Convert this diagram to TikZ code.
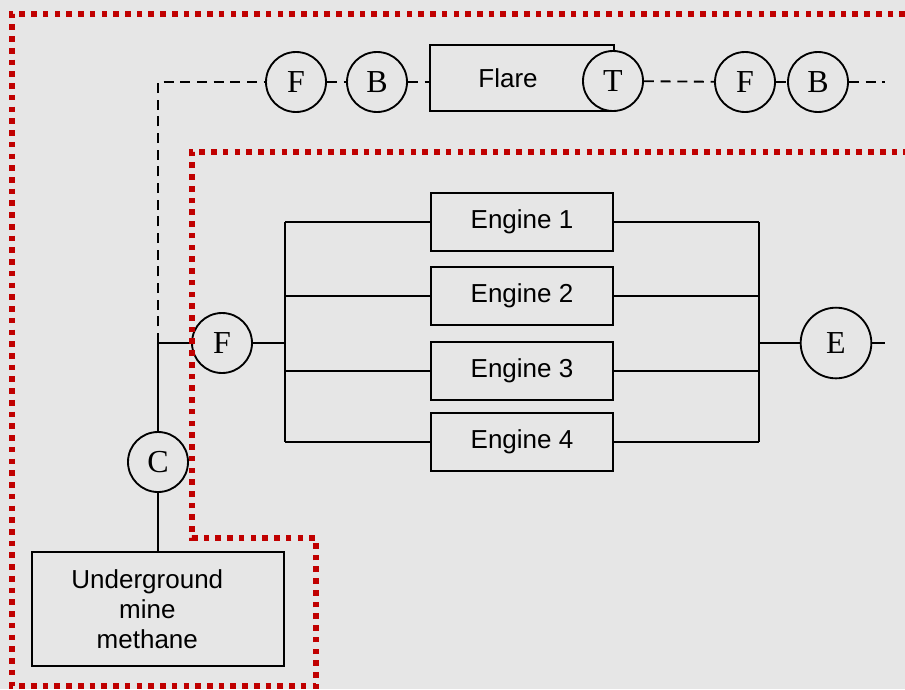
\documentclass[tikz,border=0pt]{standalone}
\usepackage{fontspec}
\setmainfont{Liberation Sans}
\newfontfamily\letterfont{Liberation Serif}
\definecolor{bggray}{HTML}{E6E6E6}
\definecolor{zonered}{HTML}{C00000}
\begin{document}
\begin{tikzpicture}[x=0.75pt, y=-0.75pt, line width=1.4pt]
        \tikzstyle{unit}=[circle, draw, fill=bggray, minimum size=45pt, inner sep=0pt, font=\letterfont\fontsize{24}{24}\selectfont]
        \tikzstyle{bigunit}=[unit, minimum size=53pt]
        \tikzstyle{block}=[rectangle, draw, minimum width=137pt, minimum height=44pt, inner sep=0pt, font=\fontsize{19.5}{22.5}\selectfont]
        \tikzstyle{feed}=[dash pattern=on 7.5pt off 5pt]
        \tikzstyle{zone}=[zonered, line width=4.2pt, dash pattern=on 4.2pt off 4.6pt]

        \fill[bggray] (0,0) rectangle (905,689);
        \useasboundingbox (0,0) rectangle (905,689);

        % flare branch
        \node[block, minimum width=138pt, minimum height=50pt] (flare) at (522,78) {Flare\hspace*{21pt}};
        \node[unit] (t) at (613,81) {T};
        \node[unit] (f1) at (296,82) {F};
        \node[unit] (b1) at (377,82) {B};
        \node[unit] (f2) at (745,82) {F};
        \node[unit] (b2) at (818,82) {B};
        \coordinate (bend) at (158,82);
        \coordinate (topend) at (885,82);

        % supply side
        \coordinate (tee) at (158,343);
        \node[unit] (f0) at (222,343) {F};
        \node[unit] (c) at (158,462) {C};
        \node[block, minimum width=189pt, minimum height=86pt, align=center] (mine) at (158,609) {\raisebox{-3pt}{\parbox{170pt}{\centering Underground\\mine\\methane}}\hspace*{16pt}};

        % engines
        \foreach \n/\y in {1/222,2/296,3/371,4/442}
            \node[block] (eng\n) at (522,\y) {\raisebox{-2pt}{Engine \n}};
        \coordinate (lbus) at (285,343);
        \coordinate (rbus) at (759,343);
        \node[bigunit] (e) at (836,343) {E};
        \coordinate (out) at (885,343);

        \draw[feed] (tee) -- (bend) -- (f1);
        \draw[feed] (f1) -- (b1);
        \draw[feed] (b1) -- (b1 -| flare.west);
        \draw[feed] (t) -- (f2);
        \draw[feed] (f2) -- (b2);
        \draw[feed] (b2) -- (topend);

        \draw (tee) -- (f0);
        \draw (tee) -- (c);
        \draw (c) -- (mine);
        \draw (f0) -- (lbus);
        \draw (eng1.west -| lbus) -- (eng4.west -| lbus);
        \draw (eng1.east -| rbus) -- (eng4.east -| rbus);
        \foreach \n in {1,...,4} {
            \draw (eng\n.west -| lbus) -- (eng\n.west);
            \draw (eng\n.east) -- (eng\n.east -| rbus);
        }
        \draw (rbus) -- (e);
        \draw (e) -- (out);

        % system boundary
        \draw[zone] (905,14) -- (12,14) -- (12,686) -- (316,686) -- (316,538) -- (192,538) -- (192,152) -- (905,152);
\end{tikzpicture}
\end{document}
